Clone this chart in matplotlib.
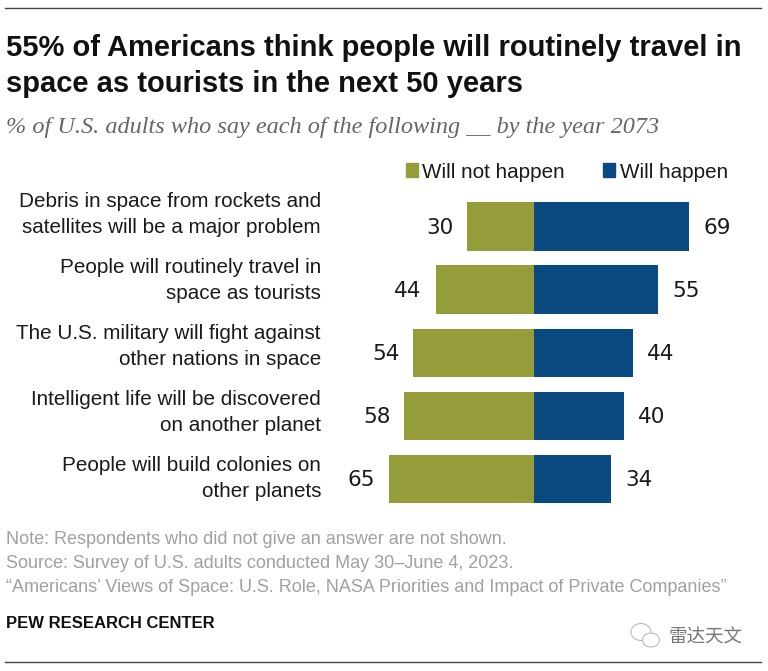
import matplotlib
matplotlib.use('Agg')
import matplotlib.pyplot as plt
from matplotlib.patches import Ellipse, Rectangle

plt.rcParams['font.family'] = ['Liberation Sans', 'DejaVu Sans']

# data
categories = [
    "Debris in space from rockets and\nsatellites will be a major problem",
    "People will routinely travel in\nspace as tourists",
    "The U.S. military will fight against\nother nations in space",
    "Intelligent life will be discovered\non another planet",
    "People will build colonies on\nother planets",
]
will_not = [30, 44, 54, 58, 65]
will = [69, 55, 44, 40, 34]

GREEN = '#949d3a'
BLUE = '#0b4a80'
DARK = '#1a1a1a'
GREY = '#a0a0a0'

W, H = 768, 671
fig = plt.figure(figsize=(W / 100, H / 100), dpi=100, facecolor='white')

# axes cover pixel rows 190-515, x=0 sits on the bar baseline at 534.3 px
ax = fig.add_axes([0, (H - 515) / H, 1, 325 / H])
ax.set_xlim(-534.3 / 2.242, (768 - 534.3) / 2.242)
ax.set_ylim(4.569, -0.582)
ax.axis('off')

ypos = list(range(len(categories)))
ax.barh(ypos, [-v for v in will_not], height=0.772, color=GREEN)
ax.barh(ypos, will, height=0.772, color=BLUE)

for i in ypos:
    ax.text(-will_not[i] - 6.2, i + 0.02, str(will_not[i]), ha='right', va='center', fontsize=15.5,
            family='DejaVu Sans', color=DARK)
    ax.text(will[i] + 6.4, i + 0.02, str(will[i]), ha='left', va='center', fontsize=15.5,
            family='DejaVu Sans', color=DARK)


def t(x, y, s, **kw):
    fig.text(x / W, 1 - y / H, s, **kw)


# category labels do not share the bar spacing in the original
for i, cat in enumerate(categories):
    t(321, 214.5 + 66 * i, cat, ha='right', va='center', fontsize=14.9, linespacing=1.45, color=DARK)

for yy in (7.5, 661.5):
    fig.add_artist(plt.Line2D([5 / W, 761 / W], [1 - yy / H, 1 - yy / H], color='#444444', lw=1.0))

t(6, 48, "55% of Americans think people will routinely travel in", fontsize=21, fontweight='bold', va='center', color='#111111')
t(6, 84, "space as tourists in the next 50 years", fontsize=21, fontweight='bold', va='center', color='#111111')
t(6, 127, "% of U.S. adults who say each of the following __ by the year 2073", fontsize=17.5, style='italic',
  family='Liberation Serif', va='center', color='#666666')

# legend
fig.add_artist(Rectangle((406 / W, 1 - 177 / H), 11.5 / W, 13.5 / H, color=GREEN, transform=fig.transFigure))
t(422, 172, "Will not happen", fontsize=14.9, va='center', color=DARK)
fig.add_artist(Rectangle((603 / W, 1 - 177 / H), 11.5 / W, 13.5 / H, color=BLUE, transform=fig.transFigure))
t(620, 172, "Will happen", fontsize=14.9, va='center', color=DARK)

# notes
t(6, 539, "Note: Respondents who did not give an answer are not shown.", fontsize=12.95, va='center', color=GREY)
t(6, 563, "Source: Survey of U.S. adults conducted May 30\u2013June 4, 2023.", fontsize=12.95, va='center', color=GREY)
t(6, 588, "\u201cAmericans\u2019 Views of Space: U.S. Role, NASA Priorities and Impact of Private Companies\u201d", fontsize=12.95, va='center', color=GREY)
t(6, 623, "PEW RESEARCH CENTER", fontsize=12, fontweight='bold', va='center', color='#111111')

# watermark
for cx, cy, ew, eh in [(641, 632, 20, 17), (651, 640, 17, 14)]:
    fig.add_artist(Ellipse((cx / W, 1 - cy / H), ew / W, eh / H, fill=True, facecolor='white', edgecolor='#bbbbbb',
                           lw=0.8, transform=fig.transFigure))
t(669, 638, "\u96f7\u8fbe\u5929\u6587", fontsize=13.3, family=['Noto Sans CJK SC', 'DejaVu Sans'], va='center', color='#777777')

fig.savefig('out.png', dpi=100)
